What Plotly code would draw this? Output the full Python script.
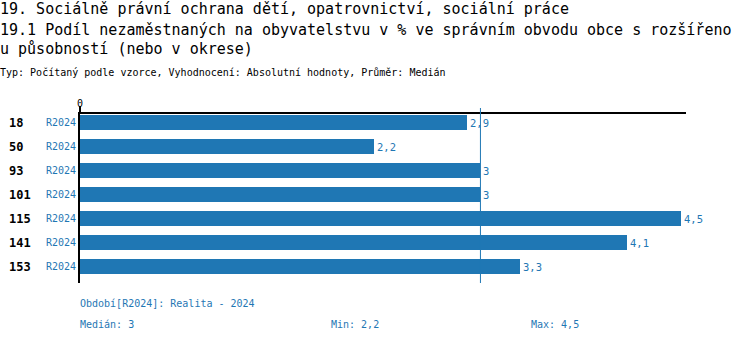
import numpy as np
import plotly.graph_objects as go

# Data
categories = ["18", "50", "93", "101", "115", "141", "153"]
period = "R2024"
values = [2.9, 2.2, 3.0, 3.0, 4.5, 4.1, 3.3]

title_lines = [
    "19. Sociálně právní ochrana dětí, opatrovnictví, sociální práce",
    "19.1 Podíl nezaměstnaných na obyvatelstvu v % ve správním obvodu obce s rozšířeno",
    "u působností (nebo v okrese)",
]
subtitle = "Typ: Počítaný podle vzorce, Vyhodnocení: Absolutní hodnoty, Průměr: Medián"
period_note = "Období[R2024]: Realita - 2024"

BLUE = "#1f77b4"
FONT = "DejaVu Sans Mono"
W, H = 750, 342
L, R, T, B = 80, 64, 114, 59
PW = W - L - R
PH = H - T - B


def fmt(v):
    return f"{v:g}".replace(".", ",")


med = float(np.median(values))
vmin = min(values)
vmax = max(values)

fig = go.Figure()
fig.add_trace(go.Bar(
    x=values,
    y=categories,
    orientation="h",
    width=0.65,
    marker=dict(color=BLUE, line=dict(width=0)),
    text=[fmt(v) for v in values],
    textposition="outside",
    textfont=dict(family=FONT, size=10.5, color=BLUE),
    cliponaxis=False,
    hoverinfo="skip",
))

# median marker line
fig.add_shape(type="line", xref="x", yref="paper",
              x0=med, x1=med, y0=0, y1=1 + 6 / PH,
              line=dict(color=BLUE, width=1), layer="above")


def px_x(px):
    return (px - L) / PW


def px_y(py):
    return 1 - (py - T) / PH


annotations = []
# title block
for text, py in zip(title_lines, [9.5, 29.5, 49.5]):
    annotations.append(dict(text=text, x=px_x(-2), y=px_y(py), xref="paper", yref="paper",
                            xanchor="left", yanchor="middle", showarrow=False,
                            font=dict(family=FONT, size=15, color="black")))
annotations.append(dict(text=subtitle, x=px_x(-2), y=px_y(72.5), xref="paper", yref="paper",
                        xanchor="left", yanchor="middle", showarrow=False,
                        font=dict(family=FONT, size=10, color="black")))
# category labels (positioned by category index on the y axis)
for i, c in enumerate(categories):
    annotations.append(dict(text=f"<b>{c}</b>", x=px_x(7), y=i, xref="paper", yref="y",
                            xanchor="left", yanchor="middle", showarrow=False,
                            font=dict(family=FONT, size=12, color="black")))
# "0" label above the axis origin
annotations.append(dict(text="0", x=0, y=px_y(103.5), xref="x", yref="paper",
                        xanchor="center", yanchor="middle", showarrow=False,
                        font=dict(family=FONT, size=10, color="black")))
# footer
annotations.append(dict(text=period_note, x=px_x(78), y=px_y(303), xref="paper", yref="paper",
                        xanchor="left", yanchor="middle", showarrow=False,
                        font=dict(family=FONT, size=10, color=BLUE)))
for text, px in [(f"Medián: {fmt(med)}", 78), (f"Min: {fmt(vmin)}", 329), (f"Max: {fmt(vmax)}", 529)]:
    annotations.append(dict(text=text, x=px_x(px), y=px_y(324), xref="paper", yref="paper",
                            xanchor="left", yanchor="middle", showarrow=False,
                            font=dict(family=FONT, size=10, color=BLUE)))

fig.update_layout(
    width=W, height=H,
    margin=dict(l=L, r=R, t=T, b=B, pad=0),
    paper_bgcolor="white", plot_bgcolor="white",
    showlegend=False,
    bargap=0,
    font=dict(family=FONT),
    annotations=annotations,
    xaxis=dict(
        side="top", range=[0, 4.54], autorange=False,
        tickvals=[0], ticktext=[""], ticks="outside", ticklen=6, tickwidth=2,
        tickcolor="black",
        showline=True, linecolor="black", linewidth=2,
        showgrid=False, zeroline=False, fixedrange=True,
    ),
    yaxis=dict(
        type="category", categoryorder="array", categoryarray=categories,
        range=[6.6875, -0.354], autorange=False,
        tickvals=categories, ticktext=[period] * len(categories),
        ticks="", tickfont=dict(family=FONT, size=10, color=BLUE),
        showline=True, linecolor="black", linewidth=2,
        showgrid=False, zeroline=False, fixedrange=True,
    ),
)

fig.write_html("out.html", config={"displayModeBar": False})
